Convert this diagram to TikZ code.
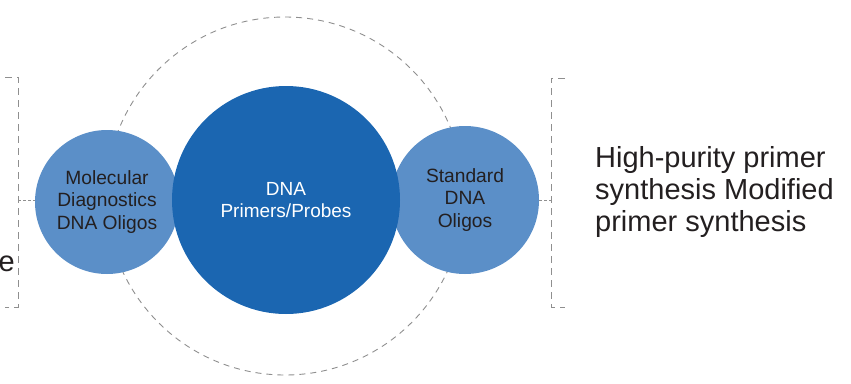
\documentclass[tikz,border=0pt]{standalone}
\usepackage{fontspec}
\setmainfont{Liberation Sans}
\definecolor{bigblue}{HTML}{1B66B1}
\definecolor{smallblue}{HTML}{5B8FC8}
\definecolor{dashgray}{HTML}{8F8F8F}
\definecolor{txtdark}{HTML}{231F20}
\begin{document}
\begin{tikzpicture}[x=1pt,y=-1pt,
  ring/.style={draw=dashgray, line width=0.9pt, dash pattern=on 6pt off 5pt},
  brk/.style={draw=dashgray, line width=0.9pt, dash pattern=on 7pt off 5pt},
  link/.style={draw=dashgray, line width=0.9pt, dash pattern=on 3pt off 2pt},
  bigc/.style={circle, fill=bigblue, minimum size=228pt, inner sep=0pt, text=white, font=\fontsize{19}{22.5}\selectfont, align=center},
  smallc/.style={circle, fill=smallblue, inner sep=0pt, text=txtdark, font=\fontsize{19.2}{22.5}\selectfont, align=center},
  side/.style={text=txtdark, font=\fontsize{29}{32}\selectfont, align=left, inner sep=0pt}]
\useasboundingbox (0,0) rectangle (851,383);
% dashed ring
\draw[ring] (285,196) circle[radius=179pt];
% small circles
\node[smallc, minimum size=144pt] (mol) at (107,202) {Molecular\\Diagnostics\\DNA Oligos};
\node[smallc, minimum size=148pt] (std) at (465,200) {Standard\\DNA\\Oligos};
% big circle
\node[bigc] (dna) at (286,200) {DNA\\Primers/Probes};
% left bracket
\coordinate (lt0) at (5,77);
\coordinate (lt1) at (18,77);
\coordinate (lb1) at (18,307);
\coordinate (lb0) at (5,307);
\coordinate (lm) at (18,200);
\draw[brk] (lt0) -- (lt1) -- (lb1) -- (lb0);
\draw[link] (lm) -- (mol.west |- lm);
% right bracket
\coordinate (rt0) at (565,78);
\coordinate (rt1) at (551,78);
\coordinate (rb1) at (551,307);
\coordinate (rb0) at (565,307);
\coordinate (rm) at (551,200);
\draw[brk] (rt0) -- (rt1) -- (rb1) -- (rb0);
\draw[link] (std.east) -- (rm);
% texts
\node[side, anchor=base west] (rtext) at (595,231) {High-purity primer\\synthesis Modified\\primer synthesis};
\node[side, anchor=base east] (ltext) at (15,271) {e};
\end{tikzpicture}
\end{document}
